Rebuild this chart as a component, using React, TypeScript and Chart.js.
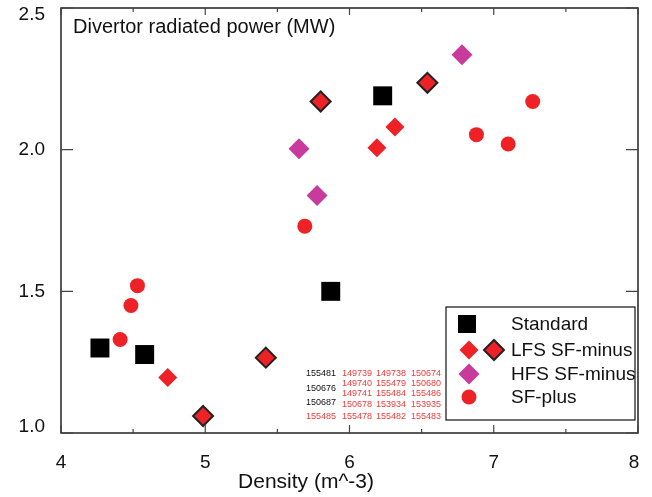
import React, { useEffect, useRef } from 'react';
import { Chart, registerables } from 'chart.js';

Chart.register(...registerables);

const TITLE = 'Divertor radiated power (MW)';
const X_TITLE = 'Density (m^-3)';
const X_TICKS = [4, 5, 6, 7, 8];
const Y_TICKS = [1.0, 1.5, 2.0, 2.5];
const X_MINOR = [4.5, 5.5, 6.5, 7.5];

const standardX = [4.27, 4.58, 5.87, 6.23];
const standardY = [1.3, 1.277, 1.5, 2.19];

const lfsPlainX = [4.74, 6.315, 6.19];
const lfsPlainY = [1.196, 2.08, 2.007];

const lfsOutlinedX = [4.985, 5.42, 5.8, 6.54];
const lfsOutlinedY = [1.06, 1.266, 2.17, 2.236];

const hfsX = [5.65, 5.775, 6.78];
const hfsY = [2.003, 1.838, 2.335];

const sfPlusX = [4.53, 4.485, 4.41, 5.69, 6.88, 7.1, 7.27];
const sfPlusY = [1.52, 1.45, 1.33, 1.73, 2.053, 2.02, 2.17];

const LEGEND_LABELS = ['Standard', 'LFS SF-minus', 'HFS SF-minus', 'SF-plus'];

const SHOTS_BLACK = ['155481', '150676', '150687'];
const SHOTS_RED = [
  ['149739', '149738', '150674'],
  ['149740', '155479', '150680'],
  ['149741', '155484', '155486'],
  ['150678', '153934', '153935'],
  ['155478', '155482', '155483'],
];
const SHOT_RED_FIRST_COL = '155485';

const RED = '#EE2226';
const MAGENTA = '#C83A9B';
const DARK = '#222222';
const FONT = '"Liberation Sans", Arial, Helvetica, sans-serif';

const pts = (xs: number[], ys: number[]) => xs.map((x, i) => ({ x, y: ys[i] }));

function drawDiamond(ctx: CanvasRenderingContext2D, x: number, y: number, r: number, fill: string, stroke?: string) {
  ctx.beginPath();
  ctx.moveTo(x - r, y);
  ctx.lineTo(x, y - r);
  ctx.lineTo(x + r, y);
  ctx.lineTo(x, y + r);
  ctx.closePath();
  ctx.fillStyle = fill;
  ctx.fill();
  if (stroke) {
    ctx.lineWidth = 2;
    ctx.strokeStyle = stroke;
    ctx.stroke();
  }
}

const decorPlugin = {
  id: 'decor',
  afterDraw(chart: any) {
    const { ctx, chartArea: a, scales } = chart;
    const xs = scales.x;
    const ys = scales.y;
    ctx.save();
    // frame
    ctx.strokeStyle = DARK;
    ctx.lineWidth = 1.5;
    ctx.strokeRect(a.left, a.top, a.right - a.left, a.bottom - a.top);

    // ticks
    ctx.lineWidth = 1.2;
    ctx.strokeStyle = '#444';
    ctx.beginPath();
    X_TICKS.forEach((v) => {
      const px = xs.getPixelForValue(v);
      ctx.moveTo(px, a.bottom); ctx.lineTo(px, a.bottom - 8);
      ctx.moveTo(px, a.top); ctx.lineTo(px, a.top + 7);
    });
    X_MINOR.forEach((v) => {
      const px = xs.getPixelForValue(v);
      ctx.moveTo(px, a.bottom); ctx.lineTo(px, a.bottom - 4);
      ctx.moveTo(px, a.top); ctx.lineTo(px, a.top + 4);
    });
    Y_TICKS.forEach((v) => {
      const py = ys.getPixelForValue(v);
      ctx.moveTo(a.left, py); ctx.lineTo(a.left + 12, py);
      ctx.moveTo(a.right, py); ctx.lineTo(a.right - 12, py);
    });
    ctx.stroke();

    // tick labels
    ctx.fillStyle = '#111';
    ctx.font = `19px ${FONT}`;
    ctx.textAlign = 'center';
    ctx.textBaseline = 'middle';
    X_TICKS.forEach((v) => {
      let px = xs.getPixelForValue(v);
      px = Math.min(px, a.right - 4);
      ctx.fillText(String(v), px, a.bottom + 30);
    });
    ctx.textAlign = 'right';
    Y_TICKS.forEach((v) => {
      let py = ys.getPixelForValue(v);
      py = Math.max(a.top + 7, Math.min(a.bottom - 6, py));
      ctx.fillText(v.toFixed(1), a.left - 16, py);
    });

    // axis title
    ctx.textAlign = 'center';
    ctx.font = `21px ${FONT}`;
    ctx.fillText(X_TITLE, 306, a.bottom + 49);

    // title
    ctx.textAlign = 'left';
    ctx.font = `20px ${FONT}`;
    ctx.fillText(TITLE, a.left + 12, a.top + 19);

    // shot table
    ctx.font = `9px ${FONT}`;
    ctx.textBaseline = 'middle';
    ctx.fillStyle = '#111';
    const blackY = [374, 389, 403];
    SHOTS_BLACK.forEach((s, i) => ctx.fillText(s, 306, blackY[i]));
    ctx.fillStyle = '#F03A3A';
    ctx.fillText(SHOT_RED_FIRST_COL, 306, 417);
    const redY = [374, 384, 394, 405, 417];
    const colX = [342, 376, 411];
    SHOTS_RED.forEach((row, r) => row.forEach((s, c) => ctx.fillText(s, colX[c], redY[r])));

    // legend
    const lx = 446, ly = 307, lw = 189, lh = 113;
    ctx.fillStyle = '#fff';
    ctx.fillRect(lx, ly, lw, lh);
    ctx.strokeStyle = '#111';
    ctx.lineWidth = 1.2;
    ctx.strokeRect(lx, ly, lw, lh);
    const rowY = [324, 350, 374, 397];
    ctx.fillStyle = '#000';
    ctx.fillRect(467 - 9, rowY[0] - 9, 18, 18);
    drawDiamond(ctx, 469, rowY[1], 9.5, RED);
    drawDiamond(ctx, 494, rowY[1], 10, RED, DARK);
    drawDiamond(ctx, 469, rowY[2], 10.5, MAGENTA);
    ctx.beginPath();
    ctx.arc(469, rowY[3], 7.5, 0, Math.PI * 2);
    ctx.fillStyle = RED;
    ctx.fill();
    ctx.fillStyle = '#111';
    ctx.font = `19px ${FONT}`;
    ctx.textAlign = 'left';
    LEGEND_LABELS.forEach((t, i) => ctx.fillText(t, 511, rowY[i] + 1));
    ctx.restore();
  },
};

export default function App() {
  const ref = useRef<HTMLCanvasElement | null>(null);
  useEffect(() => {
    const prevMargin = document.body.style.margin;
    document.body.style.margin = '0';
    const chart = new Chart(ref.current as HTMLCanvasElement, {
      type: 'scatter',
      data: {
        datasets: [
          {
            label: 'Standard',
            data: pts(standardX, standardY),
            pointStyle: 'rect',
            pointRadius: 13.4,
            backgroundColor: '#000',
            borderWidth: 0,
          },
          {
            label: 'LFS SF-minus',
            data: pts(lfsPlainX, lfsPlainY),
            pointStyle: 'rectRot',
            pointRadius: 9.5,
            backgroundColor: RED,
            borderWidth: 0,
          },
          {
            label: 'LFS SF-minus (outlined)',
            data: pts(lfsOutlinedX, lfsOutlinedY),
            pointStyle: 'rectRot',
            pointRadius: 10,
            backgroundColor: RED,
            borderColor: DARK,
            borderWidth: 2,
          },
          {
            label: 'HFS SF-minus',
            data: pts(hfsX, hfsY),
            pointStyle: 'rectRot',
            pointRadius: 10.5,
            backgroundColor: MAGENTA,
            borderWidth: 0,
          },
          {
            label: 'SF-plus',
            data: pts(sfPlusX, sfPlusY),
            pointStyle: 'circle',
            pointRadius: 7.5,
            backgroundColor: RED,
            borderWidth: 0,
          },
        ],
      },
      options: {
        responsive: false,
        animation: false,
        layout: { autoPadding: false, padding: { top: 8, right: 14, left: 0, bottom: 0 } },
        plugins: { legend: { display: false }, tooltip: { enabled: false } },
        scales: {
          x: {
            type: 'linear',
            min: 4,
            max: 8,
            ticks: { display: false },
            grid: { display: false },
            border: { display: false },
            afterFit: (s: any) => { s.height = 64; },
          },
          y: {
            type: 'linear',
            min: 1,
            max: 2.5,
            ticks: { display: false },
            grid: { display: false },
            border: { display: false },
            afterFit: (s: any) => { s.width = 61; },
          },
        },
      },
      plugins: [decorPlugin],
    } as any);
    return () => {
      chart.destroy();
      document.body.style.margin = prevMargin;
    };
  }, []);
  return (
    <div style={{ width: 652, height: 497, background: '#fff' }}>
      <canvas ref={ref} width={652} height={497} />
    </div>
  );
}
